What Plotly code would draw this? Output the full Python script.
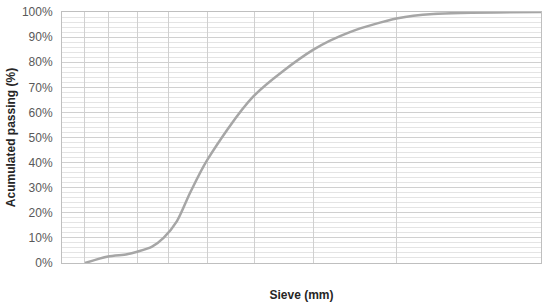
import plotly.graph_objects as go

# --- DATA ---
# x is the sieve position along the (non-linear) sieve axis, 0-100 of the axis width
grade_x = [4.8, 9.6, 13.6, 15.7, 18.8, 21.2, 24.0, 26.7, 30.3,
           39.9, 52.4, 60.1, 70.1, 77.5, 100]
passing = [0.0, 2.6, 3.5, 4.5, 6.5, 10.0, 16.7, 27.8, 41.0,
           66.3, 84.9, 92.0, 97.5, 99.2, 100]
sieve_grid = [0, 4.8, 9.8, 15.7, 22.3, 30.3, 40.1, 52.6, 69.9, 100]
y_ticks = list(range(0, 101, 10))
y_labels = [f"{v}%" for v in y_ticks]

fig = go.Figure()
fig.add_trace(go.Scatter(
    x=grade_x, y=passing, mode="lines",
    line=dict(color="#a6a6a6", width=2.5, shape="spline", smoothing=0.8),
    hoverinfo="skip", showlegend=False,
))

fig.update_layout(
    width=550, height=307,
    margin=dict(l=62, r=9, t=12, b=44),
    paper_bgcolor="white", plot_bgcolor="white",
    font=dict(family="Liberation Sans", size=12, color="#595959"),
    xaxis=dict(
        range=[0, 100], tickvals=sieve_grid, showticklabels=False,
        showgrid=True, gridcolor="#d0d0d0", gridwidth=1,
        zeroline=False, showline=True, linecolor="#bfbfbf", mirror=True,
        ticks="", automargin=False,
        title=dict(text="<b>Sieve (mm)</b>", standoff=27,
                   font=dict(size=12, color="#262626")),
    ),
    yaxis=dict(
        range=[0, 100], tickvals=y_ticks, ticktext=y_labels,
        showgrid=True, gridcolor="#d0d0d0", gridwidth=1,
        minor=dict(dtick=2, showgrid=True, gridcolor="#e4e4e4", gridwidth=1),
        zeroline=False, showline=True, linecolor="#bfbfbf", mirror=True,
        ticks="", ticklabelstandoff=6, automargin=False,
        title=dict(text="<b>Acumulated passing (%)</b>", standoff=3,
                   font=dict(size=12, color="#262626")),
    ),
)

# drop the browser's default body margin so the figure sits at the page corner
fig.write_html("out.html", config={"displayModeBar": False},
               post_script="document.body.style.margin='0';")
